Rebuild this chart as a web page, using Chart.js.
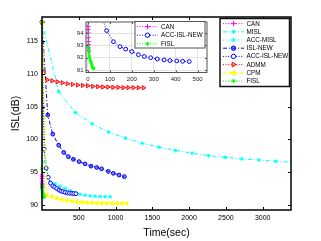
<!DOCTYPE html>
<html><head><meta charset="utf-8">
<script src="https://cdn.jsdelivr.net/npm/chart.js@4.4.1/dist/chart.umd.min.js"></script>
<style>
html,body{margin:0;padding:0;background:#fff;}
#wrap{position:relative;width:321px;height:241px;overflow:hidden;}
#main{position:absolute;left:0;top:0;}
#inset{position:absolute;left:56px;top:8px;}
</style></head><body>
<div id="wrap"><canvas id="main" width="321" height="241"></canvas><canvas id="inset" width="160" height="82"></canvas></div>
<script>
// ---- data ----
const seriesNames = ['CAN','MISL','ACC-MISL','ISL-NEW','ACC-ISL-NEW','ADMM','CPM','FISL'];
const canX  = [0, 0.8, 1.2, 1.6, 2.0, 2.4, 2.8, 3.2, 3.6];
const canY  = [117.9, 94.55, 94.28, 94.0, 93.62, 93.3, 93.06, 92.8, 92.56];
const mislX = [0, 227, 453, 680, 906, 1133, 1360, 1586, 1813, 2040, 2266, 2493, 2720, 2946, 3173, 3400];
const mislY = [117.9, 107.3, 104.1, 102.4, 101.1, 100.2, 99.4, 98.8, 98.3, 97.9, 97.5, 97.25, 97.0, 96.85, 96.65, 96.5];
const accMislX = [0, 42, 110, 178, 246, 314, 382, 450, 518, 586, 654, 722, 790, 858, 926];
const accMislY = [117.9, 96.6, 93.5, 93.2, 92.85, 92.5, 92.15, 91.85, 91.6, 91.45, 91.35, 91.3, 91.27, 91.25, 91.23];
const islNewX = [0, 78, 146, 227, 295, 359, 427, 504, 586, 667, 743, 811, 902, 970, 1048, 1120];
const islNewY = [117.9, 103.7, 100.8, 99.1, 98.0, 97.35, 96.95, 96.6, 96.25, 95.9, 95.7, 95.5, 95.1, 94.8, 94.55, 94.3];
const accIslNewX = [0, 29, 57, 85, 116, 146, 172, 200, 230, 257, 286, 316, 347, 374, 405, 432, 462];
const accIslNewY = [117.9, 98.5, 95.6, 94.2, 93.3, 92.9, 92.7, 92.5, 92.25, 92.1, 92.0, 91.9, 91.82, 91.77, 91.74, 91.71, 91.69];
const admmX = [0, 20, 69, 138, 207, 276, 345, 414, 483, 552, 621, 690, 759, 828, 897, 966, 1035, 1104, 1173, 1242, 1311, 1380];
const admmY = [117.9, 110.3, 109.1, 108.95, 108.8, 108.65, 108.5, 108.4, 108.3, 108.25, 108.2, 108.1, 108.05, 108.0, 108.0, 107.95, 107.95, 107.9, 107.9, 107.9, 107.9, 107.88];
const cpmX = [0, 64, 132, 200, 268, 336, 404, 472, 540, 608, 676, 744, 812, 880, 948, 1016, 1084, 1152];
const cpmY = [117.9, 91.5, 91.25, 91.0, 90.8, 90.65, 90.55, 90.45, 90.38, 90.33, 90.29, 90.26, 90.24, 90.23, 90.22, 90.21, 90.2, 90.2];
const fislX = [0, 0.6, 1.4, 3.2, 4.6, 6, 7.8, 10.5, 13.7, 16.9, 19.6, 22.8, 26];
const fislY = [117.9, 95.5, 92.9, 92.64, 92.4, 92.15, 91.97, 91.8, 91.64, 91.48, 91.31, 91.2, 91.12];

const mainXTicks = [500, 1000, 1500, 2000, 2500, 3000];
const mainYTicks = [90, 95, 100, 105, 110, 115];
const insetXTicks = [0, 100, 200, 300, 400, 500];
const insetYTicks = [91, 92, 93, 94];
const insetNames = ['CAN', 'ACC-ISL-NEW', 'FISL'];

const seriesX = [canX, mislX, accMislX, islNewX, accIslNewX, admmX, cpmX, fislX];
const seriesY = [canY, mislY, accMislY, islNewY, accIslNewY, admmY, cpmY, fislY];

// ---- styles ----
const DOT = [1, 1.6], DASHDOT = [4, 2, 1, 2], DASH = [3.5, 2];
const styles = {
  'CAN':         {borderColor:'#ff00ff', backgroundColor:'#ff00ff', borderDash:DOT, pointStyle:'cross', pointRadius:2.3},
  'MISL':        {borderColor:'#00ffff', backgroundColor:'#00ffff', borderDash:DASHDOT, pointStyle:'star', pointRadius:1.9},
  'ACC-MISL':    {borderColor:'#00ffff', backgroundColor:'#00ffff', borderDash:DOT, pointStyle:'star', pointRadius:1.9},
  'ISL-NEW':     {borderColor:'#0000ff', backgroundColor:'rgba(40,40,230,0.55)', borderDash:DASHDOT, pointStyle:'circle', pointRadius:1.9},
  'ACC-ISL-NEW': {borderColor:'#0000ff', backgroundColor:'#ffffff', borderDash:DOT, pointStyle:'circle', pointRadius:1.9},
  'ADMM':        {borderColor:'#ff0000', backgroundColor:'rgba(255,150,150,0.6)', borderDash:DOT, pointStyle:'triangle', pointRotation:90, pointRadius:2.4},
  'CPM':         {borderColor:'#ffff00', backgroundColor:'#ffff00', borderDash:DASH, pointStyle:'triangle', pointRotation:-90, pointRadius:2.4, borderWidth:1.3},
  'FISL':        {borderColor:'#00ff00', backgroundColor:'#00ff00', borderDash:DOT, pointStyle:'star', pointRadius:1.7}
};

const FONT = 'Liberation Sans, Arial, Helvetica, sans-serif';
const plain = v => String(v);

function makeDataset(name, idx, clip) {
  const xs = seriesX[idx], ys = seriesY[idx];
  return Object.assign({
    label: name,
    data: xs.map((x, i) => ({x: x, y: ys[i]})),
    showLine: true, tension: 0, fill: false, borderWidth: 1, pointBorderWidth: 1,
    order: seriesNames.length - idx, clip: clip
  }, styles[name]);
}

function drawMarker(ctx, ds, x, y) {
  ctx.save();
  ctx.setLineDash([]);
  ctx.strokeStyle = ds.borderColor;
  ctx.fillStyle = ds.backgroundColor;
  ctx.lineWidth = 1;
  Chart.helpers.drawPoint(ctx, {pointStyle: ds.pointStyle, rotation: ds.pointRotation || 0, radius: ds.pointRadius + 0.3, borderWidth: 1}, x, y);
  ctx.restore();
}

function drawLegend(ctx, datasets, L) {
  ctx.save();
  ctx.fillStyle = '#fff';
  ctx.fillRect(L.x, L.y, L.w, L.h);
  ctx.strokeStyle = L.border; ctx.lineWidth = L.bw; ctx.setLineDash([]);
  ctx.strokeRect(L.x, L.y, L.w, L.h);
  datasets.forEach((ds, i) => {
    const yy = L.first + i * L.step;
    ctx.save();
    ctx.strokeStyle = ds.borderColor; ctx.lineWidth = ds.borderWidth || 1;
    ctx.setLineDash(ds.borderDash || []);
    ctx.beginPath(); ctx.moveTo(L.lx0, yy); ctx.lineTo(L.lx1, yy); ctx.stroke();
    ctx.restore();
    drawMarker(ctx, ds, (L.lx0 + L.lx1) / 2, yy);
    ctx.fillStyle = '#000';
    ctx.font = L.fs + 'px ' + FONT;
    ctx.textBaseline = 'middle'; ctx.textAlign = 'left';
    ctx.fillText(ds.label, L.tx, yy + 0.3);
  });
  ctx.restore();
}

function frame(chart, color, lw, tick) {
  const {ctx, chartArea: a, scales: {x, y}} = chart;
  ctx.save();
  ctx.strokeStyle = color; ctx.lineWidth = 1; ctx.setLineDash([]);
  ctx.beginPath();
  x.ticks.forEach(t => {
    const px = Math.round(x.getPixelForValue(t.value)) + 0.5;
    ctx.moveTo(px, a.bottom); ctx.lineTo(px, a.bottom - tick);
    ctx.moveTo(px, a.top); ctx.lineTo(px, a.top + tick);
  });
  y.ticks.forEach(t => {
    const py = Math.round(y.getPixelForValue(t.value)) + 0.5;
    ctx.moveTo(a.left, py); ctx.lineTo(a.left + tick, py);
    ctx.moveTo(a.right, py); ctx.lineTo(a.right - tick, py);
  });
  ctx.stroke();
  ctx.lineWidth = lw;
  ctx.strokeRect(a.left, a.top, a.right - a.left, a.bottom - a.top);
  ctx.restore();
}

// ---- main chart ----
const mainDatasets = seriesNames.map((n, i) => makeDataset(n, i, {left: 4, top: 4, right: 0, bottom: 0}));

new Chart(document.getElementById('main'), {
  type: 'scatter',
  data: {datasets: mainDatasets},
  options: {
    responsive: false, animation: false, devicePixelRatio: 1,
    layout: {padding: {top: 17, right: 30, left: 0, bottom: 0}},
    plugins: {legend: {display: false}, tooltip: {enabled: false}},
    scales: {
      x: {
        type: 'linear', min: 0, max: 3385,
        grid: {display: false, drawTicks: false}, border: {display: false},
        ticks: {font: {family: FONT, size: 7}, color: '#000', padding: 4, maxRotation: 0, autoSkip: false, callback: plain},
        afterBuildTicks: s => { s.ticks = mainXTicks.map(v => ({value: v})); },
        afterFit: s => { s.height = 31; },
        title: {display: true, text: 'Time(sec)', font: {family: FONT, size: 10.5}, color: '#000', padding: {top: 0, bottom: 1.5}}
      },
      y: {
        type: 'linear', min: 89.2, max: 118.7,
        grid: {display: false, drawTicks: false}, border: {display: false},
        ticks: {font: {family: FONT, size: 7}, color: '#000', padding: 4, autoSkip: false, callback: plain},
        afterBuildTicks: s => { s.ticks = mainYTicks.map(v => ({value: v})); },
        afterFit: s => { s.width = 42; },
        title: {display: true, text: 'ISL(dB)', font: {family: FONT, size: 10.5}, color: '#000', padding: {top: 10, bottom: 0}}
      }
    }
  },
  plugins: [{
    id: 'mainDeco',
    afterDraw(chart) {
      frame(chart, '#000', 1.5, 3);
      drawLegend(chart.ctx, chart.data.datasets, {
        x: 220, y: 18.5, w: 69.5, h: 68, border: '#111', bw: 1.5,
        first: 23.6, step: 8.2, lx0: 223, lx1: 244, tx: 246.5, fs: 6.3
      });
    }
  }]
});

// ---- inset chart ----
const insetDatasets = insetNames.map(n => makeDataset(n, seriesNames.indexOf(n), 0));

new Chart(document.getElementById('inset'), {
  type: 'scatter',
  data: {datasets: insetDatasets},
  options: {
    responsive: false, animation: false, devicePixelRatio: 1,
    layout: {padding: {top: 14, right: 9, left: 0, bottom: 0}},
    plugins: {legend: {display: false}, tooltip: {enabled: false}},
    scales: {
      x: {
        type: 'linear', min: -9, max: 543,
        grid: {display: true, drawTicks: false, color: '#e4e4e4', lineWidth: 1}, border: {display: false},
        ticks: {font: {family: FONT, size: 6}, color: '#222', padding: 3.4, maxRotation: 0, autoSkip: false, callback: plain},
        afterBuildTicks: s => { s.ticks = insetXTicks.map(v => ({value: v})); },
        afterFit: s => { s.height = 17.5; }
      },
      y: {
        type: 'linear', min: 90.8, max: 94.9,
        grid: {display: true, drawTicks: false, color: '#e4e4e4', lineWidth: 1}, border: {display: false},
        ticks: {font: {family: FONT, size: 6}, color: '#222', padding: 2.5, autoSkip: false, callback: plain},
        afterBuildTicks: s => { s.ticks = insetYTicks.map(v => ({value: v})); },
        afterFit: s => { s.width = 30; }
      }
    }
  },
  plugins: [{
    id: 'insetBg',
    beforeDraw(chart) {
      const a = chart.chartArea, ctx = chart.ctx;
      ctx.save(); ctx.fillStyle = '#fff';
      ctx.fillRect(a.left, a.top, a.right - a.left, a.bottom - a.top);
      ctx.restore();
    },
    afterDraw(chart) {
      frame(chart, '#555', 1, 2);
      drawLegend(chart.ctx, chart.data.datasets, {
        x: 79, y: 13.5, w: 70, h: 26.5, border: '#555', bw: 1,
        first: 18.6, step: 8.6, lx0: 81, lx1: 102, tx: 105, fs: 6.3
      });
    }
  }]
});
</script>
</body></html>
